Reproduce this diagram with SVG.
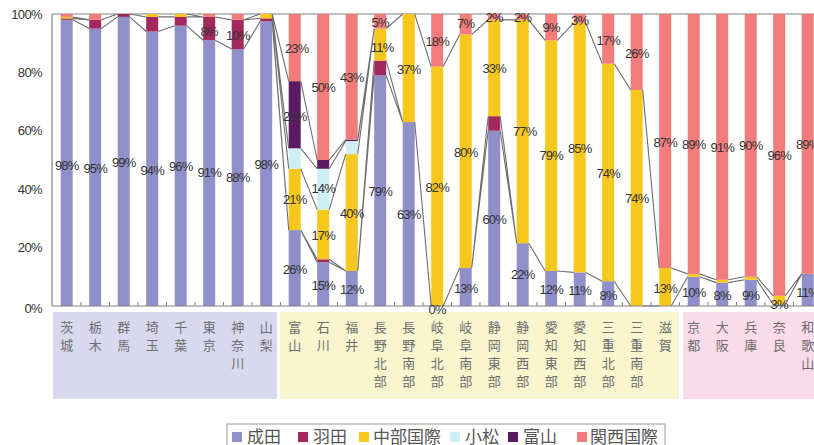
<svg xmlns="http://www.w3.org/2000/svg" width="814" height="445" viewBox="0 0 814 445">
<style>
.n{fill:#8f8fc9}.h{fill:#a3285e}.c{fill:#f6c71c}.k{fill:#cdeef2}.t{fill:#5c1a60}.x{fill:#f27c7c}
.lb{font-family:"Liberation Sans",Arial,sans-serif;font-size:13px;letter-spacing:-0.8px;fill:#333;text-anchor:middle}
.ax{font-family:"Liberation Sans",Arial,sans-serif;font-size:13px;letter-spacing:-0.6px;fill:#333;text-anchor:end}
.cat{font-family:"Noto Sans CJK JP",sans-serif;font-size:13px;fill:#6e6e6e;text-anchor:middle}
.lg{font-family:"Noto Sans CJK JP",sans-serif;font-size:17px;fill:#555}
.sl{stroke:#6e6e6e;stroke-width:1.1;fill:none}
</style>
<rect width="814" height="445" fill="#fff"/>
<g id="bands">
<rect x="53" y="312" width="224" height="87" fill="#d8d8ee"/>
<rect x="280" y="312" width="399" height="87" fill="#f8f5cf"/>
<rect x="683" y="312" width="131" height="87" fill="#f9dbe9"/>
</g>
<g id="axes">
<line x1="52" y1="14" x2="814" y2="14" stroke="#808080" stroke-width="1.2"/>
<line x1="52" y1="14" x2="52" y2="306" stroke="#808080" stroke-width="1.2"/>
<text class="ax" x="42" y="18.5">100%</text>
<text class="ax" x="42" y="76.9">80%</text>
<text class="ax" x="42" y="135.3">60%</text>
<text class="ax" x="42" y="193.7">40%</text>
<text class="ax" x="42" y="252.1">20%</text>
<text class="ax" x="42" y="312.5">0%</text>
</g>
<g id="bars">
<g id="ibaraki"><rect class="n" x="60.7" y="19.84" width="12" height="286.16"/><rect class="h" x="60.7" y="18.38" width="12" height="1.46"/><rect class="c" x="60.7" y="16.92" width="12" height="1.46"/><rect class="x" x="60.7" y="14" width="12" height="2.92"/></g>
<g id="tochigi"><rect class="n" x="89.2" y="28.6" width="12" height="277.4"/><rect class="h" x="89.2" y="19.84" width="12" height="8.76"/><rect class="x" x="89.2" y="14" width="12" height="5.84"/></g>
<g id="gunma"><rect class="n" x="117.7" y="16.92" width="12" height="289.08"/><rect class="h" x="117.7" y="14" width="12" height="2.92"/></g>
<g id="saitama"><rect class="n" x="146.2" y="31.52" width="12" height="274.48"/><rect class="h" x="146.2" y="16.92" width="12" height="14.6"/><rect class="c" x="146.2" y="14" width="12" height="2.92"/></g>
<g id="chiba"><rect class="n" x="174.7" y="25.68" width="12" height="280.32"/><rect class="h" x="174.7" y="16.92" width="12" height="8.76"/><rect class="c" x="174.7" y="14" width="12" height="2.92"/></g>
<g id="tokyo"><rect class="n" x="203.2" y="40.28" width="12" height="265.72"/><rect class="h" x="203.2" y="16.92" width="12" height="23.36"/><rect class="x" x="203.2" y="14" width="12" height="2.92"/></g>
<g id="kanagawa"><rect class="n" x="231.7" y="49.04" width="12" height="256.96"/><rect class="h" x="231.7" y="19.84" width="12" height="29.2"/><rect class="x" x="231.7" y="14" width="12" height="5.84"/></g>
<g id="yamanashi"><rect class="n" x="260.2" y="21.3" width="12" height="284.7"/><rect class="h" x="260.2" y="18.38" width="12" height="2.92"/><rect class="c" x="260.2" y="14" width="12" height="4.38"/></g>
<g id="toyama"><rect class="n" x="288.7" y="230.08" width="12" height="75.92"/><rect class="c" x="288.7" y="168.76" width="12" height="61.32"/><rect class="k" x="288.7" y="148.32" width="12" height="20.44"/><rect class="t" x="288.7" y="81.16" width="12" height="67.16"/><rect class="x" x="288.7" y="14" width="12" height="67.16"/></g>
<g id="ishikawa"><rect class="n" x="317.2" y="262.2" width="12" height="43.8"/><rect class="h" x="317.2" y="259.28" width="12" height="2.92"/><rect class="c" x="317.2" y="209.64" width="12" height="49.64"/><rect class="k" x="317.2" y="168.76" width="12" height="40.88"/><rect class="t" x="317.2" y="160" width="12" height="8.76"/><rect class="x" x="317.2" y="14" width="12" height="146"/></g>
<g id="fukui"><rect class="n" x="345.7" y="270.96" width="12" height="35.04"/><rect class="c" x="345.7" y="154.16" width="12" height="116.8"/><rect class="k" x="345.7" y="141.02" width="12" height="13.14"/><rect class="t" x="345.7" y="139.56" width="12" height="1.46"/><rect class="x" x="345.7" y="14" width="12" height="125.56"/></g>
<g id="naganohoku"><rect class="n" x="374.2" y="75.32" width="12" height="230.68"/><rect class="h" x="374.2" y="60.72" width="12" height="14.6"/><rect class="c" x="374.2" y="28.6" width="12" height="32.12"/><rect class="x" x="374.2" y="14" width="12" height="14.6"/></g>
<g id="naganonan"><rect class="n" x="402.7" y="122.04" width="12" height="183.96"/><rect class="c" x="402.7" y="14" width="12" height="108.04"/></g>
<g id="gifuhoku"><rect class="c" x="431.2" y="66.56" width="12" height="239.44"/><rect class="x" x="431.2" y="14" width="12" height="52.56"/></g>
<g id="gifunan"><rect class="n" x="459.7" y="268.04" width="12" height="37.96"/><rect class="c" x="459.7" y="34.44" width="12" height="233.6"/><rect class="x" x="459.7" y="14" width="12" height="20.44"/></g>
<g id="shizuokato"><rect class="n" x="488.2" y="130.8" width="12" height="175.2"/><rect class="h" x="488.2" y="116.2" width="12" height="14.6"/><rect class="c" x="488.2" y="19.84" width="12" height="96.36"/><rect class="x" x="488.2" y="14" width="12" height="5.84"/></g>
<g id="shizuokasei"><rect class="n" x="516.7" y="243.22" width="12" height="62.78"/><rect class="c" x="516.7" y="19.84" width="12" height="223.38"/><rect class="x" x="516.7" y="14" width="12" height="5.84"/></g>
<g id="aichito"><rect class="n" x="545.2" y="270.96" width="12" height="35.04"/><rect class="c" x="545.2" y="40.28" width="12" height="230.68"/><rect class="x" x="545.2" y="14" width="12" height="26.28"/></g>
<g id="aichisei"><rect class="n" x="573.7" y="272.42" width="12" height="33.58"/><rect class="c" x="573.7" y="22.76" width="12" height="249.66"/><rect class="x" x="573.7" y="14" width="12" height="8.76"/></g>
<g id="miehoku"><rect class="n" x="602.2" y="281.18" width="12" height="24.82"/><rect class="c" x="602.2" y="63.64" width="12" height="217.54"/><rect class="x" x="602.2" y="14" width="12" height="49.64"/></g>
<g id="mienan"><rect class="c" x="630.7" y="89.92" width="12" height="216.08"/><rect class="x" x="630.7" y="14" width="12" height="75.92"/></g>
<g id="shiga"><rect class="c" x="659.2" y="268.04" width="12" height="37.96"/><rect class="x" x="659.2" y="14" width="12" height="254.04"/></g>
<g id="kyoto"><rect class="n" x="687.7" y="276.8" width="12" height="29.2"/><rect class="c" x="687.7" y="273.88" width="12" height="2.92"/><rect class="x" x="687.7" y="14" width="12" height="259.88"/></g>
<g id="osaka"><rect class="n" x="716.2" y="282.64" width="12" height="23.36"/><rect class="c" x="716.2" y="279.72" width="12" height="2.92"/><rect class="x" x="716.2" y="14" width="12" height="265.72"/></g>
<g id="hyogo"><rect class="n" x="744.7" y="279.72" width="12" height="26.28"/><rect class="c" x="744.7" y="276.8" width="12" height="2.92"/><rect class="x" x="744.7" y="14" width="12" height="262.8"/></g>
<g id="nara"><rect class="n" x="773.2" y="304.54" width="12" height="1.46"/><rect class="c" x="773.2" y="295.78" width="12" height="8.76"/><rect class="x" x="773.2" y="14" width="12" height="281.78"/></g>
<g id="wakayama"><rect class="n" x="801.7" y="273.88" width="12" height="32.12"/><rect class="x" x="801.7" y="14" width="12" height="259.88"/></g>
</g>
<g id="connectors" class="sl">
<path d="M72.7 19.84L89.2 28.6M72.7 18.38L89.2 19.84M72.7 16.92L89.2 19.84
M101.2 28.6L117.7 16.92M101.2 19.84L117.7 14
M129.7 16.92L146.2 31.52M129.7 14L146.2 16.92
M158.2 31.52L174.7 25.68M158.2 16.92L174.7 16.92
M186.7 25.68L203.2 40.28M186.7 16.92L203.2 16.92M186.7 14L203.2 16.92
M215.2 40.28L231.7 49.04M215.2 16.92L231.7 19.84
M243.7 49.04L260.2 21.3M243.7 19.84L260.2 18.38M243.7 19.84L260.2 14
M272.2 21.3L288.7 230.08M272.2 18.38L288.7 230.08M272.2 14L288.7 168.76M272.2 14L288.7 148.32M272.2 14L288.7 81.16
M300.7 230.08L317.2 262.2M300.7 230.08L317.2 259.28M300.7 168.76L317.2 209.64M300.7 148.32L317.2 168.76M300.7 81.16L317.2 160
M329.2 262.2L345.7 270.96M329.2 259.28L345.7 270.96M329.2 209.64L345.7 154.16M329.2 168.76L345.7 141.02M329.2 160L345.7 139.56
M357.7 270.96L374.2 75.32M357.7 270.96L374.2 60.72M357.7 154.16L374.2 28.6M357.7 141.02L374.2 28.6M357.7 139.56L374.2 28.6
M386.2 75.32L402.7 122.04M386.2 60.72L402.7 122.04M386.2 28.6L402.7 14
M414.7 122.04L431.2 306M414.7 14L431.2 66.56
M443.2 306L459.7 268.04M443.2 66.56L459.7 34.44
M471.7 268.04L488.2 130.8M471.7 268.04L488.2 116.2M471.7 34.44L488.2 19.84
M500.2 130.8L516.7 243.22M500.2 116.2L516.7 243.22M500.2 19.84L516.7 19.84
M528.7 243.22L545.2 270.96M528.7 19.84L545.2 40.28
M557.2 270.96L573.7 272.42M557.2 40.28L573.7 22.76
M585.7 272.42L602.2 281.18M585.7 22.76L602.2 63.64
M614.2 281.18L630.7 306M614.2 63.64L630.7 89.92
M642.7 306L659.2 306M642.7 89.92L659.2 268.04
M671.2 306L687.7 276.8M671.2 268.04L687.7 273.88
M699.7 276.8L716.2 282.64M699.7 273.88L716.2 279.72
M728.2 282.64L744.7 279.72M728.2 279.72L744.7 276.8
M756.7 279.72L773.2 304.54M756.7 276.8L773.2 295.78
M785.2 304.54L801.7 273.88M785.2 295.78L801.7 273.88"/>
</g>
<g id="baseline">
<line x1="52" y1="306" x2="814" y2="306" stroke="#808080" stroke-width="1.2"/>
<path d="M80.95 302V306M109.45 302V306M137.95 302V306M166.45 302V306M194.95 302V306M223.45 302V306M251.95 302V306M280.45 302V306M308.95 302V306M337.45 302V306M365.95 302V306M394.45 302V306M422.95 302V306M451.45 302V306M479.95 302V306M508.45 302V306M536.95 302V306M565.45 302V306M593.95 302V306M622.45 302V306M650.95 302V306M679.45 302V306M707.95 302V306M736.45 302V306M764.95 302V306M793.45 302V306" stroke="#808080" stroke-width="1"/>
</g>
<g id="values">
<text class="lb" x="66.7" y="169.5">98%</text>
<text class="lb" x="95.2" y="172.5">95%</text>
<text class="lb" x="123.7" y="166.5">99%</text>
<text class="lb" x="152.2" y="174.5">94%</text>
<text class="lb" x="180.7" y="170.5">96%</text>
<text class="lb" x="209.2" y="176.5">91%</text>
<text class="lb" x="209.2" y="35.5">8%</text>
<text class="lb" x="237.7" y="181.5">88%</text>
<text class="lb" x="237.7" y="39.5">10%</text>
<text class="lb" x="266.2" y="168.5">98%</text>
<text class="lb" x="294.7" y="273.5">26%</text>
<text class="lb" x="294.7" y="203.5">21%</text>
<text class="lb" x="294.7" y="120.5">23%</text>
<text class="lb" x="296.7" y="52.5">23%</text>
<text class="lb" x="323.2" y="289.5">15%</text>
<text class="lb" x="323.2" y="239.5">17%</text>
<text class="lb" x="323.2" y="192.5">14%</text>
<text class="lb" x="323.2" y="91.5">50%</text>
<text class="lb" x="351.7" y="293.5">12%</text>
<text class="lb" x="351.7" y="217.5">40%</text>
<text class="lb" x="351.7" y="81.5">43%</text>
<text class="lb" x="380.2" y="195.5">79%</text>
<text class="lb" x="382.2" y="51.5">11%</text>
<text class="lb" x="380.2" y="26.5">5%</text>
<text class="lb" x="408.7" y="218.5">63%</text>
<text class="lb" x="408.7" y="73.5">37%</text>
<text class="lb" x="437.2" y="313.5">0%</text>
<text class="lb" x="437.2" y="191.5">82%</text>
<text class="lb" x="437.2" y="45.5">18%</text>
<text class="lb" x="465.7" y="292.5">13%</text>
<text class="lb" x="465.7" y="156.5">80%</text>
<text class="lb" x="465.7" y="27.5">7%</text>
<text class="lb" x="494.2" y="223.5">60%</text>
<text class="lb" x="494.2" y="72.5">33%</text>
<text class="lb" x="494.2" y="21.5">2%</text>
<text class="lb" x="522.7" y="278.5">22%</text>
<text class="lb" x="524.7" y="135.5">77%</text>
<text class="lb" x="522.7" y="21.5">2%</text>
<text class="lb" x="551.2" y="293.5">12%</text>
<text class="lb" x="551.2" y="159.5">79%</text>
<text class="lb" x="551.2" y="31.5">9%</text>
<text class="lb" x="579.7" y="294.5">11%</text>
<text class="lb" x="579.7" y="152.5">85%</text>
<text class="lb" x="579.7" y="24.5">3%</text>
<text class="lb" x="608.2" y="299.5">8%</text>
<text class="lb" x="608.2" y="177.5">74%</text>
<text class="lb" x="608.2" y="44.5">17%</text>
<text class="lb" x="636.7" y="202.5">74%</text>
<text class="lb" x="636.7" y="57.5">26%</text>
<text class="lb" x="665.2" y="292.5">13%</text>
<text class="lb" x="665.2" y="146.5">87%</text>
<text class="lb" x="693.7" y="296.5">10%</text>
<text class="lb" x="693.7" y="148.5">89%</text>
<text class="lb" x="722.2" y="299.5">8%</text>
<text class="lb" x="722.2" y="151.5">91%</text>
<text class="lb" x="750.7" y="299.5">9%</text>
<text class="lb" x="750.7" y="149.5">90%</text>
<text class="lb" x="779.2" y="308.5">3%</text>
<text class="lb" x="779.2" y="159.5">96%</text>
<text class="lb" x="807.7" y="296.5">11%</text>
<text class="lb" x="807.7" y="148.5">89%</text>
</g>
<g id="categories" class="cat">
<text x="66.7" y="332">茨<tspan x="66.7" dy="18">城</tspan></text>
<text x="95.2" y="332">栃<tspan x="95.2" dy="18">木</tspan></text>
<text x="123.7" y="332">群<tspan x="123.7" dy="18">馬</tspan></text>
<text x="152.2" y="332">埼<tspan x="152.2" dy="18">玉</tspan></text>
<text x="180.7" y="332">千<tspan x="180.7" dy="18">葉</tspan></text>
<text x="209.2" y="332">東<tspan x="209.2" dy="18">京</tspan></text>
<text x="237.7" y="332">神<tspan x="237.7" dy="18">奈</tspan><tspan x="237.7" dy="18">川</tspan></text>
<text x="266.2" y="332">山<tspan x="266.2" dy="18">梨</tspan></text>
<text x="294.7" y="332">富<tspan x="294.7" dy="18">山</tspan></text>
<text x="323.2" y="332">石<tspan x="323.2" dy="18">川</tspan></text>
<text x="351.7" y="332">福<tspan x="351.7" dy="18">井</tspan></text>
<text x="380.2" y="332">長<tspan x="380.2" dy="18">野</tspan><tspan x="380.2" dy="18">北</tspan><tspan x="380.2" dy="18">部</tspan></text>
<text x="408.7" y="332">長<tspan x="408.7" dy="18">野</tspan><tspan x="408.7" dy="18">南</tspan><tspan x="408.7" dy="18">部</tspan></text>
<text x="437.2" y="332">岐<tspan x="437.2" dy="18">阜</tspan><tspan x="437.2" dy="18">北</tspan><tspan x="437.2" dy="18">部</tspan></text>
<text x="465.7" y="332">岐<tspan x="465.7" dy="18">阜</tspan><tspan x="465.7" dy="18">南</tspan><tspan x="465.7" dy="18">部</tspan></text>
<text x="494.2" y="332">静<tspan x="494.2" dy="18">岡</tspan><tspan x="494.2" dy="18">東</tspan><tspan x="494.2" dy="18">部</tspan></text>
<text x="522.7" y="332">静<tspan x="522.7" dy="18">岡</tspan><tspan x="522.7" dy="18">西</tspan><tspan x="522.7" dy="18">部</tspan></text>
<text x="551.2" y="332">愛<tspan x="551.2" dy="18">知</tspan><tspan x="551.2" dy="18">東</tspan><tspan x="551.2" dy="18">部</tspan></text>
<text x="579.7" y="332">愛<tspan x="579.7" dy="18">知</tspan><tspan x="579.7" dy="18">西</tspan><tspan x="579.7" dy="18">部</tspan></text>
<text x="608.2" y="332">三<tspan x="608.2" dy="18">重</tspan><tspan x="608.2" dy="18">北</tspan><tspan x="608.2" dy="18">部</tspan></text>
<text x="636.7" y="332">三<tspan x="636.7" dy="18">重</tspan><tspan x="636.7" dy="18">南</tspan><tspan x="636.7" dy="18">部</tspan></text>
<text x="665.2" y="332">滋<tspan x="665.2" dy="18">賀</tspan></text>
<text x="693.7" y="332">京<tspan x="693.7" dy="18">都</tspan></text>
<text x="722.2" y="332">大<tspan x="722.2" dy="18">阪</tspan></text>
<text x="750.7" y="332">兵<tspan x="750.7" dy="18">庫</tspan></text>
<text x="779.2" y="332">奈<tspan x="779.2" dy="18">良</tspan></text>
<text x="807.7" y="332">和<tspan x="807.7" dy="18">歌</tspan><tspan x="807.7" dy="18">山</tspan></text>
</g>
<g id="legend">
<rect x="227" y="424" width="438" height="30" fill="#fff" stroke="#9a9a9a" stroke-width="1"/>
<rect class="n" x="232" y="432" width="10" height="10"/><text class="lg" x="247" y="443">成田</text>
<rect class="h" x="298" y="432" width="10" height="10"/><text class="lg" x="313" y="443">羽田</text>
<rect class="c" x="359" y="432" width="10" height="10"/><text class="lg" x="373" y="443">中部国際</text>
<rect class="k" x="450" y="432" width="10" height="10"/><text class="lg" x="465" y="443">小松</text>
<rect class="t" x="508" y="432" width="10" height="10"/><text class="lg" x="523" y="443">富山</text>
<rect class="x" x="577" y="432" width="10" height="10"/><text class="lg" x="590" y="443">関西国際</text>
</g>
</svg>
